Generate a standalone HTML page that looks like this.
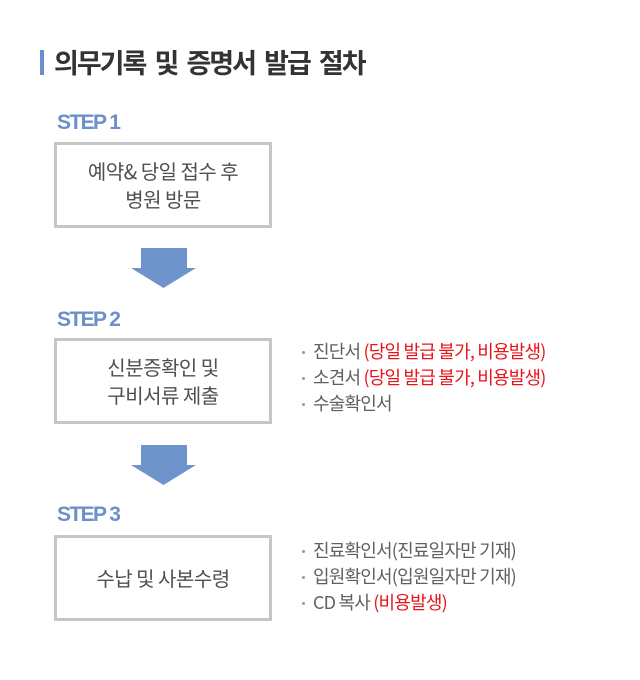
<!DOCTYPE html>
<html>
<head>
<meta charset="utf-8">
<style>
  html,body{margin:0;padding:0;background:#fff;}
  body{width:640px;height:680px;position:relative;overflow:hidden;
    font-family:"Liberation Sans","Noto Sans CJK KR",sans-serif;}
  .kr{font-family:"Noto Sans CJK KR","Liberation Sans",sans-serif;}
  .bar{position:absolute;left:40px;top:50px;width:4px;height:25px;background:#6a8ec9;}
  .title{position:absolute;left:54px;top:46px;line-height:32px;font-size:27px;font-weight:bold;color:#333;
    letter-spacing:-2px;word-spacing:5px;white-space:nowrap;}
  .step{position:absolute;left:57px;font-family:"Liberation Sans",sans-serif;font-weight:bold;font-size:21px;line-height:21px;
    color:#6b8fca;letter-spacing:-1.6px;white-space:nowrap;}
  .box{position:absolute;left:54px;width:218px;height:86px;box-sizing:border-box;border:3px solid #c6c6c6;
    display:flex;align-items:center;justify-content:center;text-align:center;
    font-size:20px;line-height:28px;color:#505050;letter-spacing:-0.5px;}
  .li{position:absolute;left:313px;font-size:18px;line-height:26px;height:26px;color:#606060;letter-spacing:-0.8px;white-space:nowrap;}
  .li .r{color:#e8141b;}
  .dot{position:absolute;left:302px;width:3px;height:3px;background:#7e9dd2;border-radius:50%;}
</style>
</head>
<body>
<div class="bar"></div>
<div class="title kr">의무기록 및 증명서 발급 절차</div>

<div class="step" style="top:112px;">STEP 1</div>
<div class="box kr" style="top:142px;"><div>예약&amp; 당일 접수 후<br>병원 방문</div></div>

<svg style="position:absolute;left:0;top:0" width="640" height="680">
  <polygon points="141,248 187,248 187,268 196,268 163.5,288 131,268 141,268" fill="#6f93cb"/>
  <polygon points="141,445 187,445 187,465 196,465 163.5,485 131,465 141,465" fill="#6f93cb"/>
</svg>

<div class="step" style="top:309px;">STEP 2</div>
<div class="box kr" style="top:338px;"><div>신분증확인 및<br>구비서류 제출</div></div>

<div class="dot" style="top:351px;"></div>
<div class="li kr" style="top:338px;">진단서 <span class="r">(당일 발급 불가, 비용발생)</span></div>
<div class="dot" style="top:377px;"></div>
<div class="li kr" style="top:364px;">소견서 <span class="r">(당일 발급 불가, 비용발생)</span></div>
<div class="dot" style="top:403px;"></div>
<div class="li kr" style="top:390px;">수술확인서</div>

<div class="step" style="top:504px;">STEP 3</div>
<div class="box kr" style="top:535px;"><div>수납 및 사본수령</div></div>

<div class="dot" style="top:550px;"></div>
<div class="li kr" style="top:537px;">진료확인서(진료일자만 기재)</div>
<div class="dot" style="top:576px;"></div>
<div class="li kr" style="top:563px;">입원확인서(입원일자만 기재)</div>
<div class="dot" style="top:602px;"></div>
<div class="li kr" style="top:589px;">CD 복사 <span class="r">(비용발생)</span></div>
</body>
</html>
